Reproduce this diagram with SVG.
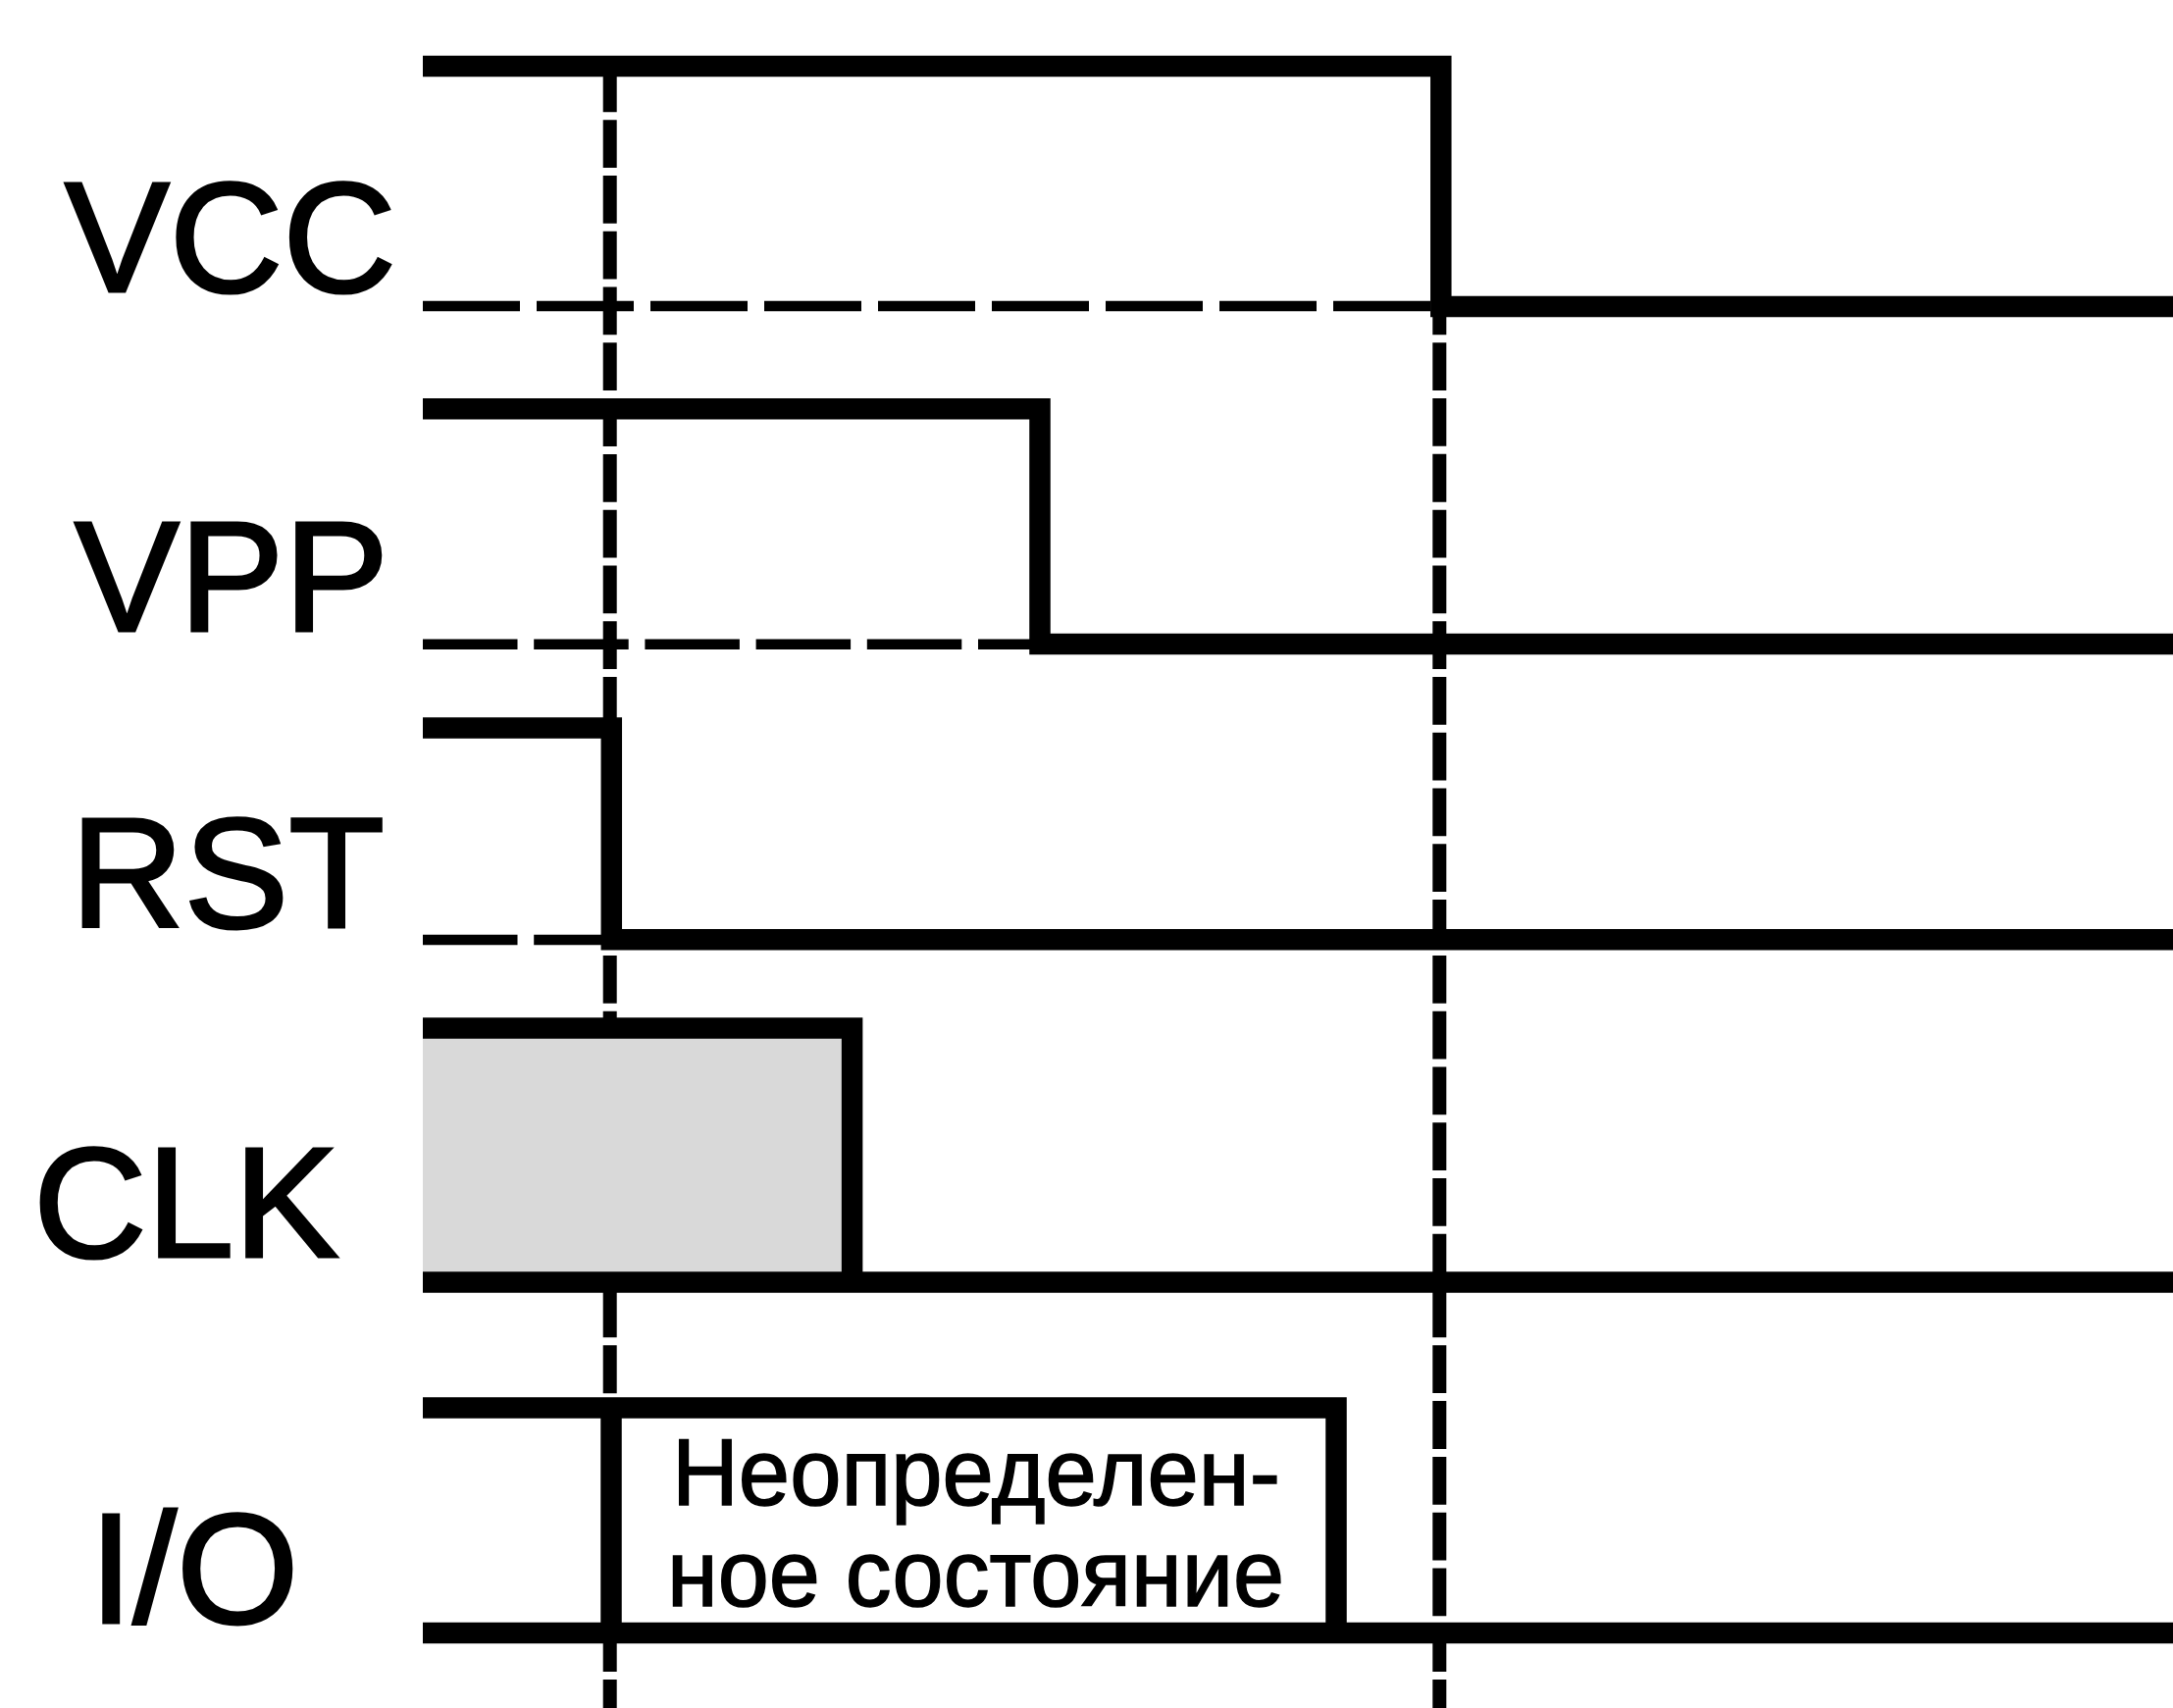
<svg xmlns="http://www.w3.org/2000/svg" width="2215" height="1741" viewBox="0 0 2215 1741">
<style>
.sig{fill:none;stroke:#000;stroke-width:21.5;stroke-linejoin:miter;stroke-linecap:butt}
.base{fill:none;stroke:#000;stroke-width:10.5;stroke-dasharray:96.5 16.7}
.base2{fill:none;stroke:#000;stroke-width:10.5;stroke-dasharray:99 17}
.vdash{fill:none;stroke:#000;stroke-width:14;stroke-dasharray:48.78 8}
.lbl{font-family:"Liberation Sans",Arial,sans-serif;font-size:160px;fill:#000;stroke:#000;stroke-width:3}
.note{font-family:"Liberation Sans",Arial,sans-serif;font-size:96px;fill:#000;stroke:#000;stroke-width:1.5}
</style>
<rect width="2215" height="1741" fill="#fff"/>
<g id="connectors">
<path class="vdash" d="M621.7,67.5 V1741" stroke-dashoffset="2.08"/>
<path class="vdash" d="M1467.3,312.5 V1741" stroke-dashoffset="19.98"/>
</g>
<g id="vcc">
<text class="lbl" x="66" y="296.7">VCC</text>
<path class="base2" d="M431,312 H1460"/>
<path class="sig" d="M431,67.5 H1468.8 V312.5 H2225"/>
</g>
<g id="vpp">
<text class="lbl" x="76" y="643.3">VPP</text>
<path class="base" d="M431,656.7 H1052"/>
<path class="sig" d="M431,416.7 H1060 V656.5 H2225"/>
</g>
<g id="rst">
<text class="lbl" x="72" y="945">RST</text>
<path class="base" d="M431,958 H615"/>
<path class="sig" d="M431,742 H623.3 V957.8 H2225"/>
</g>
<g id="clk">
<text class="lbl" x="34" y="1280.7">CLK</text>
<rect x="431" y="1048" width="437.6" height="259" fill="#d9d9d9"/>
<path class="sig" d="M431,1048 H868.6 V1307"/>
<path class="sig" d="M431,1307 H2225"/>
</g>
<g id="io">
<text class="lbl" x="91" y="1654">I/O</text>
<path class="sig" d="M431,1435 H1362 V1664.5"/>
<path class="sig" d="M623,1435 V1664.5"/>
<path class="sig" d="M431,1664.5 H2225"/>
<text class="note" x="685" y="1534" textLength="620" lengthAdjust="spacingAndGlyphs">Неопределен-</text>
<text class="note" x="680" y="1636.7" textLength="629" lengthAdjust="spacingAndGlyphs">ное состояние</text>
</g>
</svg>
